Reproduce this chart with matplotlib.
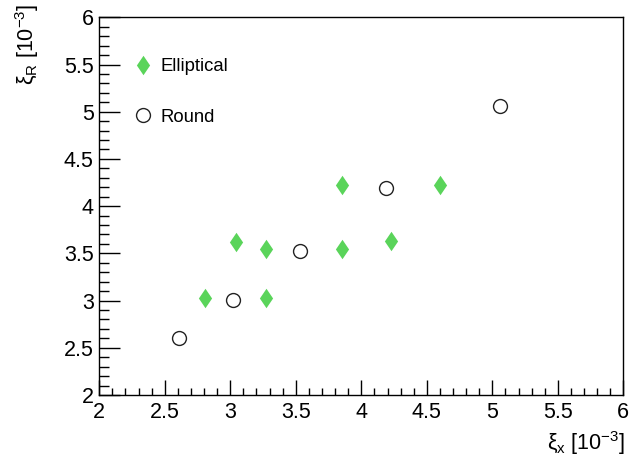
import numpy as np
import matplotlib
matplotlib.use("Agg")
import matplotlib.pyplot as plt
from matplotlib.ticker import MultipleLocator

plt.rcParams['font.family'] = ['Liberation Sans', 'DejaVu Sans']
plt.rcParams['mathtext.fontset'] = 'custom'
plt.rcParams['mathtext.rm'] = 'Liberation Sans'
plt.rcParams['mathtext.it'] = 'Liberation Sans'
plt.rcParams['mathtext.bf'] = 'Liberation Sans:bold'

## Data (units of 1e-3)
ell_x = [2.81, 3.04, 3.27, 3.27, 3.85, 3.85, 4.23, 4.60]
ell_y = [3.03, 3.62, 3.55, 3.03, 4.22, 3.55, 3.63, 4.22]
round_x = [2.61, 3.02, 3.53, 4.19, 5.06]
round_y = [2.60, 3.01, 3.53, 4.19, 5.06]

green = '#5ad45a'
diamond = [(0, 1), (0.68, 0), (0, -1), (-0.68, 0), (0, 1)]

fig = plt.figure(figsize=(6.3, 4.65), dpi=100)
ax = fig.add_axes([0.1576, 0.1505, 0.8318, 0.8123])

ax.plot(ell_x, ell_y, linestyle='none', marker=diamond, markersize=14,
        color=green, markeredgewidth=0, label='Elliptical')
ax.plot(round_x, round_y, linestyle='none', marker='o', markersize=10,
        markerfacecolor='none', markeredgecolor='#222222',
        markeredgewidth=1.0, label='Round')

ax.set_xlim(2, 6)
ax.set_ylim(2, 6)
ax.xaxis.set_major_locator(MultipleLocator(0.5))
ax.xaxis.set_minor_locator(MultipleLocator(0.1))
ax.yaxis.set_major_locator(MultipleLocator(0.5))
ax.yaxis.set_minor_locator(MultipleLocator(0.1))
ax.xaxis.set_major_formatter(plt.FuncFormatter(lambda v, p: f'{v:g}'))
ax.yaxis.set_major_formatter(plt.FuncFormatter(lambda v, p: f'{v:g}'))
ax.tick_params(which='both', direction='in', top=False, right=False,
               labelsize=15.5, width=1.0, color='black')
ax.tick_params(axis='x', which='major', length=11, pad=5)
ax.tick_params(axis='x', which='minor', length=5)
ax.tick_params(axis='y', which='major', length=15, pad=4)
ax.tick_params(axis='y', which='minor', length=7)
for s in ax.spines.values():
    s.set_linewidth(1.0)

fig.text(625 / 630, 1 - 443 / 465, r'$\xi_{x}$ [10$^{-3}$]', fontsize=15.5,
         ha='right', va='center')
fig.text(27 / 630, 1 - 4 / 465, r'$\xi_{R}$ [10$^{-3}$]', fontsize=15.5,
         ha='center', va='top', rotation=90)

ax.legend(loc='upper left', bbox_to_anchor=(0.045, 0.916), frameon=False,
          fontsize=13.3, handletextpad=0.35, labelspacing=1.8, borderpad=0,
          handlelength=1.2)

fig.savefig('out.png', dpi=100)
